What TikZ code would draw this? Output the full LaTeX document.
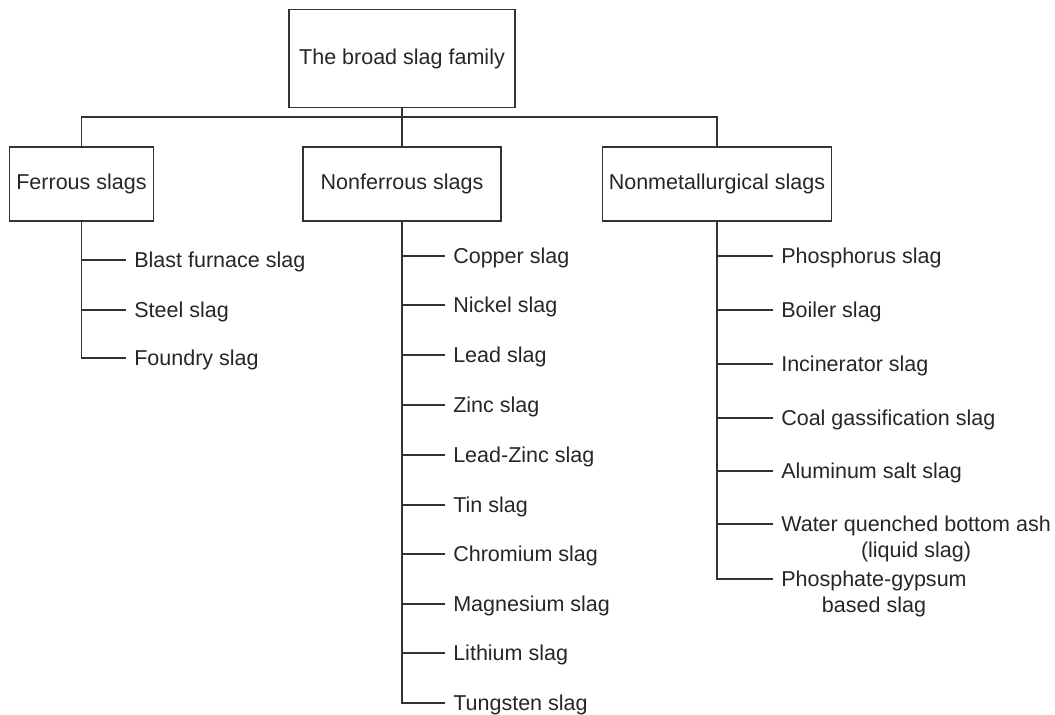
\documentclass[tikz,border=0pt]{standalone}
\usepackage{fontspec}
\setmainfont{Liberation Sans}
\usetikzlibrary{positioning}

\begin{document}
\begin{tikzpicture}[
    x=0.025cm, y=-0.025cm,
    box/.style={rectangle, draw=black!80, line width=1pt, minimum width=#1, minimum height=1.85cm, font=\fontsize{15.3}{18.5}\selectfont, text=black!85},
    slagtwo/.style={font=\fontsize{15.3}{18.5}\selectfont, text=black!85, align=center, anchor=west, inner xsep=0.2cm},
    slag/.style={slagtwo, text height=10.95pt, text depth=0pt},
    link/.style={draw=black!80, line width=1pt}
]
\useasboundingbox (0,0) rectangle (1055,715);

% Main boxes
\node[box=5.65cm, minimum height=2.45cm] (family) at (402,58.5) {The broad slag family};
\node[box=4.95cm, below=0.95cm of family] (nonferrous) {Nonferrous slags};
\node[box=3.6cm, left=3.7cm of nonferrous] (ferrous) {Ferrous slags};
\node[box=5.725cm, right=2.5cm of nonferrous] (nonmetal) {Nonmetallurgical slags};
\coordinate (bus) at (402,117);

% Ferrous slags
\node[slag] (blast) at (126,260) {Blast furnace slag};
\node[slag] (steel) at (126,310) {Steel slag};
\node[slag] (foundry) at (126,358) {Foundry slag};

% Nonferrous slags
\node[slag] (copper) at (445,256) {Copper slag};
\node[slag] (nickel) at (445,305) {Nickel slag};
\node[slag] (lead) at (445,355) {Lead slag};
\node[slag] (zinc) at (445,405) {Zinc slag};
\node[slag] (leadzinc) at (445,455) {Lead-Zinc slag};
\node[slag] (tin) at (445,505) {Tin slag};
\node[slag] (chromium) at (445,554) {Chromium slag};
\node[slag] (magnesium) at (445,604) {Magnesium slag};
\node[slag] (lithium) at (445,653) {Lithium slag};
\node[slag] (tungsten) at (445,703) {Tungsten slag};

% Nonmetallurgical slags
\node[slag] (phosphorus) at (773,256) {Phosphorus slag};
\node[slag] (boiler) at (773,310) {Boiler slag};
\node[slag] (incinerator) at (773,364) {Incinerator slag};
\node[slag] (coal) at (773,418) {Coal gassification slag};
\node[slag] (aluminum) at (773,471) {Aluminum salt slag};
\coordinate (waterpt) at (773,524);
\node[slagtwo] (water) at (773,539) {Water quenched bottom ash\\(liquid slag)};
\coordinate (phosphatept) at (773,579);
\node[slagtwo] (phosphate) at (773,594) {Phosphate-gypsum\\based slag};

% Connectors
\draw[link] (family) -- (nonferrous);
\draw[link] (ferrous.north) |- (bus) -| (nonmetal.north);

\draw[link] (ferrous.south) |- (foundry.west);
\draw[link] (ferrous.south |- blast.west) -- (blast.west)
    (ferrous.south |- steel.west) -- (steel.west);

\draw[link] (nonferrous.south) |- (tungsten.west);
\draw[link] (nonferrous.south |- copper.west) -- (copper.west)
    (nonferrous.south |- nickel.west) -- (nickel.west)
    (nonferrous.south |- lead.west) -- (lead.west)
    (nonferrous.south |- zinc.west) -- (zinc.west)
    (nonferrous.south |- leadzinc.west) -- (leadzinc.west)
    (nonferrous.south |- tin.west) -- (tin.west)
    (nonferrous.south |- chromium.west) -- (chromium.west)
    (nonferrous.south |- magnesium.west) -- (magnesium.west)
    (nonferrous.south |- lithium.west) -- (lithium.west);

\draw[link] (nonmetal.south) |- (phosphatept);
\draw[link] (nonmetal.south |- phosphorus.west) -- (phosphorus.west)
    (nonmetal.south |- boiler.west) -- (boiler.west)
    (nonmetal.south |- incinerator.west) -- (incinerator.west)
    (nonmetal.south |- coal.west) -- (coal.west)
    (nonmetal.south |- aluminum.west) -- (aluminum.west)
    (nonmetal.south |- waterpt) -- (waterpt);
\end{tikzpicture}
\end{document}
